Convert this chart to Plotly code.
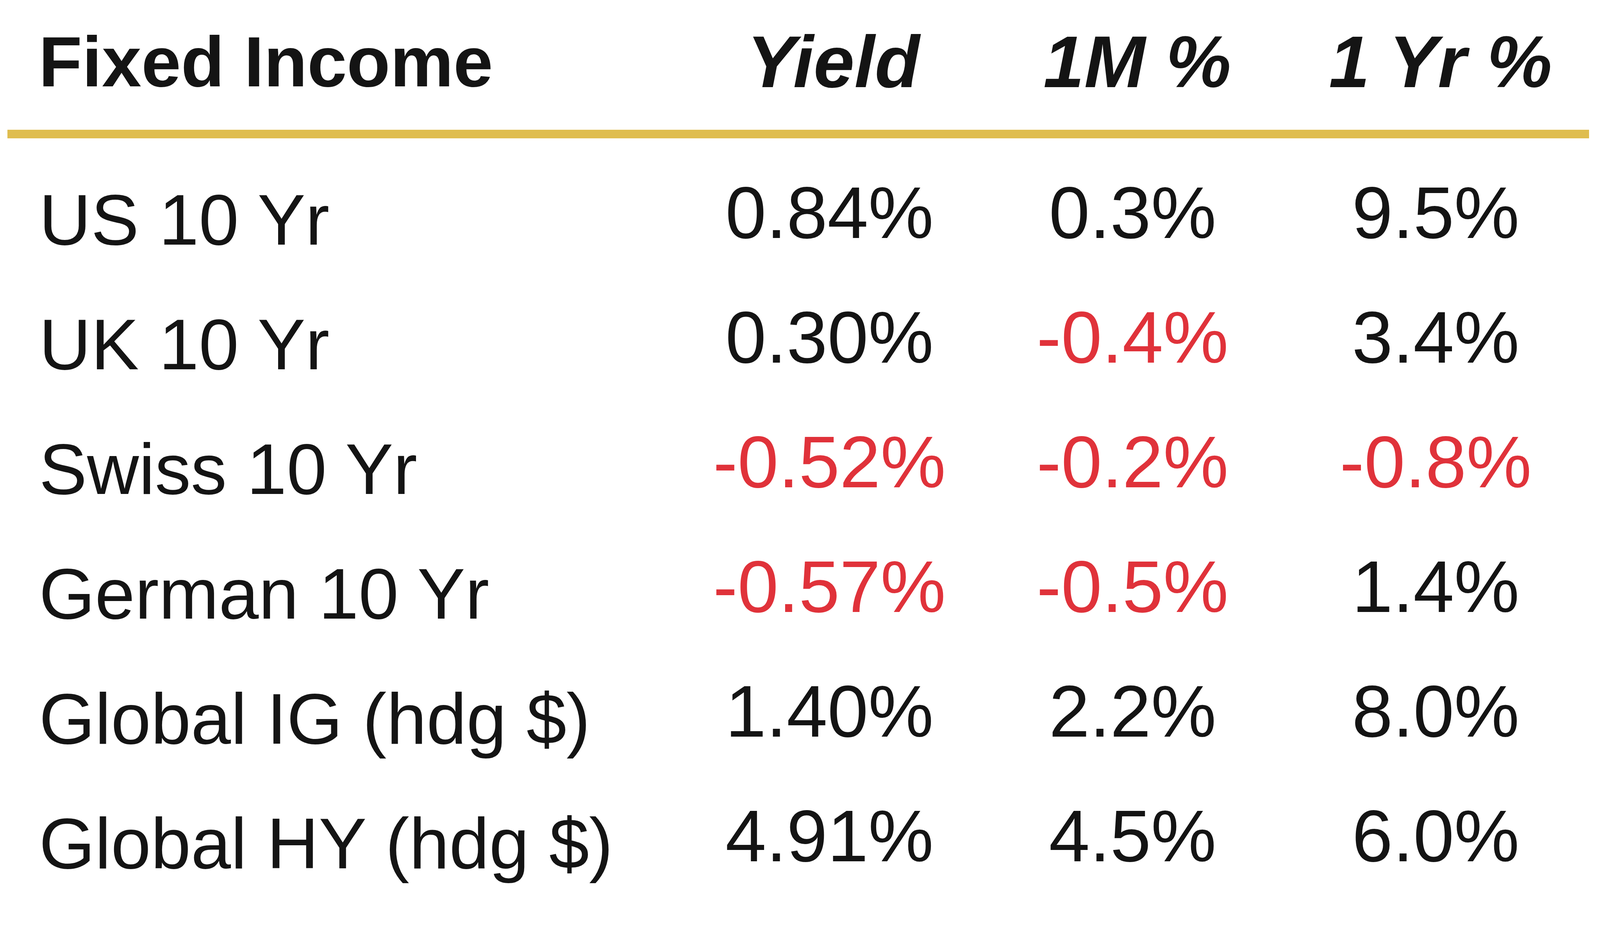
import plotly.graph_objects as go

# table contents
row_labels = [
    "US 10 Yr",
    "UK 10 Yr",
    "Swiss 10 Yr",
    "German 10 Yr",
    "Global IG (hdg $)",
    "Global HY (hdg $)",
]
col_labels = ["Yield", "1M %", "1 Yr %"]
corner_label = "Fixed Income"
yield_pct = [0.84, 0.30, -0.52, -0.57, 1.40, 4.91]
one_month_pct = [0.3, -0.4, -0.2, -0.5, 2.2, 4.5]
one_year_pct = [9.5, 3.4, -0.8, 1.4, 8.0, 6.0]

# the visible viewport is 4096 css px wide, page body has an 8px margin
W, H = 4088, 2349
FONT = "Liberation Sans, Arial, sans-serif"
SIZE = 188
LABEL_SIZE = 184
BLACK = "#141414"
RED = "#E0323A"
GOLD = "#DFBD4F"


def fmt(values, decimals):
    return [f"{v:.{decimals}f}%" for v in values]


def colors(values):
    return [RED if v < 0 else BLACK for v in values]


fig = go.Figure()
columns = [(yield_pct, 2), (one_month_pct, 1), (one_year_pct, 1)]
for name, (values, dec) in zip(col_labels, columns):
    fig.add_trace(
        go.Scatter(
            x=[name] * len(values),
            y=row_labels,
            mode="text",
            text=fmt(values, dec),
            textposition="middle center",
            textfont={"family": FONT, "size": SIZE, "color": colors(values)},
            hoverinfo="skip",
            showlegend=False,
        )
    )

margin = {"l": 11, "r": 28, "t": 394, "b": 40}

fig.update_layout(
    width=W,
    height=H,
    margin=margin,
    plot_bgcolor="white",
    paper_bgcolor="white",
    showlegend=False,
)
fig.update_xaxes(
    type="category",
    categoryarray=col_labels,
    range=[-2.712, 2.506],
    showgrid=False,
    zeroline=False,
    showline=False,
    showticklabels=False,
    ticks="",
)
fig.update_yaxes(
    type="category",
    categoryarray=row_labels,
    range=[len(row_labels) - 0.5, -0.5],
    showgrid=False,
    zeroline=False,
    showline=False,
    ticks="",
    ticklen=0,
    ticklabelposition="inside",
    ticklabelstandoff=78,
    tickfont={"family": FONT, "size": LABEL_SIZE, "color": BLACK},
)

# header row
header_shift = 244
fig.add_annotation(
    text=f"<b>{corner_label}</b>",
    xref="paper",
    yref="paper",
    x=0,
    y=1,
    xanchor="left",
    yanchor="middle",
    xshift=78,
    yshift=header_shift,
    showarrow=False,
    font={"family": FONT, "size": 182, "color": BLACK},
)
for name in col_labels:
    fig.add_annotation(
        text=f"<b><i>{name}</i></b>",
        xref="x",
        yref="paper",
        x=name,
        y=1,
        xanchor="center",
        yanchor="middle",
        xshift=12,
        yshift=header_shift,
        showarrow=False,
        font={"family": FONT, "size": SIZE, "color": BLACK},
    )

# gold rule under the header
plot_h = H - margin["t"] - margin["b"]
rule_y = 1 + 59 / plot_h
fig.add_shape(
    type="line",
    xref="paper",
    yref="paper",
    x0=0,
    x1=1,
    y0=rule_y,
    y1=rule_y,
    line={"color": GOLD, "width": 22},
)

fig.write_html("out.html")
